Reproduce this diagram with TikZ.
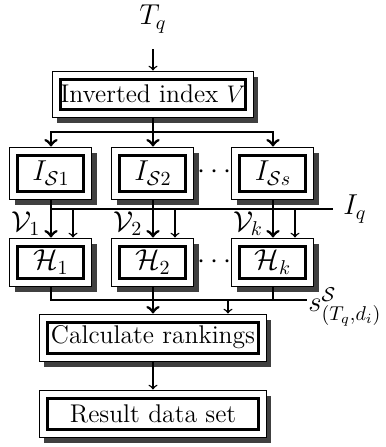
\documentclass[tikz,border=0pt]{standalone}
\usepackage{amsmath}
\usetikzlibrary{shadows}
\tikzset{
  dblbox/.style={draw=black, line width=0.5pt, fill=white, font=\fontsize{12.8}{15}\selectfont, inner sep=0pt,
    drop shadow={shadow xshift=2.5pt, shadow yshift=-3pt, fill=black!75, opacity=1},
    path picture={\draw[line width=1.5pt]
      ([shift={(4pt,4pt)}]path picture bounding box.south west) rectangle
      ([shift={(-4pt,-4pt)}]path picture bounding box.north east);}},
  lbl/.style={font=\Large, inner sep=1pt},
  bus/.style={line width=1.4pt},
  conn/.style={line width=0.7pt},
}
\begin{document}
\begin{tikzpicture}[x=0.5pt,y=0.5pt,>=to]
	\useasboundingbox (0,0) rectangle (386,447);
	
	%Query and inverted index
	\node[lbl] (tq) at (153,428) {$T_q$};
	\node[dblbox, minimum width=100.5pt, minimum height=23pt] (inv) at (153,353) {Inverted index $V$};
	\draw[conn,->,shorten <=7pt] (tq) -- (inv);
	
	%Row of index parts
	\foreach \n/\x/\t in {is1/51/{$I_{\mathcal{S}1}$}, is2/153/{$I_{\mathcal{S}2}$}, iss/273/{$I_{\mathcal{S}s}$}}
	\node[dblbox, font=\Large, minimum width=41pt, minimum height=26pt] (\n) at (\x,274) {\t};
	\node[lbl] (dots1) at (217,275) {$\cdots$};
	\coordinate (split) at (153,315);
	\draw[bus] (inv) -- (split);
	\foreach \n in {is1,is2,iss}
	\draw[bus,->] (split) -| (\n);
	
	%Row of hash tables
	\foreach \n/\x/\t in {h1/51/{$\mathcal{H}_1$}, h2/153/{$\mathcal{H}_2$}, hk/273/{$\mathcal{H}_k$}}
	\node[dblbox, font=\Large, minimum width=41pt, minimum height=24pt] (\n) at (\x,185) {\t};
	\node[lbl] (dots2) at (217,185) {$\cdots$};
	\foreach \a/\b/\t in {is1/h1/{$\mathcal{V}_1$}, is2/h2/{$\mathcal{V}_2$}, iss/hk/{$\mathcal{V}_k$}}{
		\draw[bus,->] (\a) -- (\b);
		\node[lbl] (v\b) at ([shift={(-12.5pt,7pt)}]\b.north) {\t};
	}
	
	%Query signature bus
	\coordinate (iq) at (333,238);
	\draw[bus] (is1.south |- iq) -- (iq);
	\node[lbl, anchor=west] (iqlbl) at ([xshift=4pt]iq) {$I_q$};
	\foreach \b in {h1,h2,hk}{
		\coordinate (t\b) at ([xshift=11pt]\b.north);
		\draw[conn,->] (t\b |- iq) -- (t\b);
	}
	
	%Ranking and result
	\node[dblbox, minimum width=113.5pt, minimum height=23.5pt] (calc) at (153,109.5) {Calculate rankings};
	\node[dblbox, minimum width=113.5pt, minimum height=23.5pt] (res) at (153,33.5) {Result data set};
	\coordinate (sb) at (307,147);
	\draw[bus] (h1) |- (sb);
	\draw[bus] (hk) -- (hk |- sb);
	\draw[bus,->] (h2) -- (calc);
	\coordinate (ts) at ([xshift=37.5pt]calc.north);
	\draw[conn,->] (ts |- sb) -- (ts);
	\node[lbl, anchor=west] (slbl) at (306,140) {$s^{\mathcal{S}}_{(T_q,d_i)}$};
	\draw[conn,->] (calc) -- (res);
	
\end{tikzpicture}
\end{document}
